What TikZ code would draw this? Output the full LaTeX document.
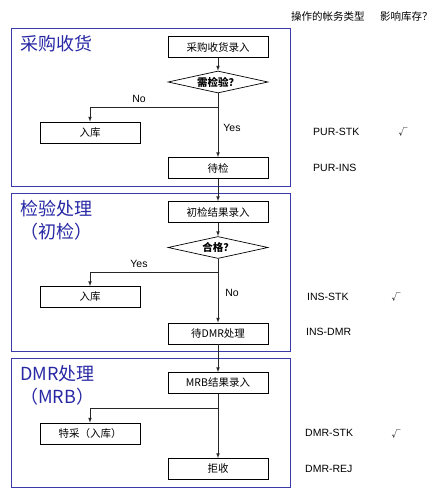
\documentclass[tikz,border=0pt]{standalone}
\usepackage{fontspec}
\setmainfont{Liberation Sans}
\newfontfamily\cjk{Noto Sans CJK SC}
\usepackage{tikz}
\usetikzlibrary{arrows,positioning,shapes,calc}
\usepackage{xcolor}
\definecolor{secblue}{RGB}{58,58,172}
\definecolor{titleblue}{RGB}{40,40,165}

\begin{document}
\begin{tikzpicture}[x=1pt,y=-1pt,
    every node/.style={font=\fontsize{10.5}{12}\selectfont},
    box/.style={draw,line width=0.7pt,minimum width=100pt,minimum height=21pt,inner sep=0pt,font=\cjk\fontsize{10.5}{12}\selectfont},
    decide/.style={draw,diamond,aspect=4.5,line width=0.7pt,minimum width=100pt,minimum height=22pt,inner sep=0pt,font=\cjk\bfseries\fontsize{10.5}{12}\selectfont},
    section/.style={draw=secblue,line width=0.9pt,minimum width=279pt,inner sep=0pt},
    title/.style={anchor=north west,text=titleblue,align=left,inner sep=0pt,font=\cjk\fontsize{18}{23}\selectfont},
    code/.style={anchor=west,inner sep=0pt},
    flow/.style={->,>=latex,line width=0.7pt,draw=black!85}]
    \useasboundingbox (0,0) rectangle (441,493);

    % column headers
    \node[anchor=west,inner sep=0pt,font=\cjk\fontsize{10.5}{12}\selectfont] (hdtype) at (291,17) {操作的帐务类型};
    \node[anchor=west,inner sep=0pt,font=\cjk\fontsize{10.5}{12}\selectfont] (hdstock) at (380,17) {影响库存？};

    % sections
    \node[section,minimum height=158pt] (sec1) at (150.5,107) {};
    \node[section,minimum height=158pt] (sec2) at (150.5,272) {};
    \node[section,minimum height=129pt] (sec3) at (150.5,422.5) {};
    \node[title] (t1) at (20,35) {采购收货};
    \node[title] (t2) at (20,200) {检验处理\\（初检）};
    \node[title] (t3) at (20,365) {DMR处理\\（MRB）};

    % receiving
    \node[box] (rcv) at (218,47) {采购收货录入};
    \node[decide] (need) at (218,82) {需检验？};
    \node[box] (stk1) at (90,132.5) {入库};
    \node[box] (pend) at (218,168) {待检};
    \coordinate (j1) at (218,107);

    % inspection
    \node[box] (insp) at (218,212) {初检结果录入};
    \node[decide] (pass) at (218,247.5) {合格？};
    \node[box] (stk2) at (90,297) {入库};
    \node[box] (dmr) at (218,333.5) {待DMR处理};
    \coordinate (j2) at (218,272);

    % MRB
    \node[box] (mrb) at (218,383) {MRB结果录入};
    \node[box] (spec) at (90,433.5) {特采（入库）};
    \node[box] (rej) at (218,469) {拒收};
    \coordinate (j3) at (218,408);

    % transaction types
    \node[code] (c1) at (313,132) {PUR-STK};
    \node[code] (c2) at (313,168) {PUR-INS};
    \node[code] (c3) at (307,297) {INS-STK};
    \node[code] (c4) at (306,332) {INS-DMR};
    \node[code] (c5) at (305,433) {DMR-STK};
    \node[code] (c6) at (305,469) {DMR-REJ};
    \node[font=\cjk\fontsize{9}{10}\selectfont] (k1) at (403,132) {√};
    \node[font=\cjk\fontsize{9}{10}\selectfont] (k2) at (396,297) {√};
    \node[font=\cjk\fontsize{9}{10}\selectfont] (k3) at (396,434) {√};

    \draw[flow] (rcv) -- (need);
    \draw[flow] (need) -- (pend);
    \draw[flow] (j1) -| (stk1);
    \node (no1) at (139,99) {No};
    \node (yes1) at (232,128) {Yes};
    \draw[flow] (pend) -- (insp);
    \draw[flow] (insp) -- (pass);
    \draw[flow] (pass) -- (dmr);
    \draw[flow] (j2) -| (stk2);
    \node (yes2) at (139,264) {Yes};
    \node (no2) at (232,293) {No};
    \draw[flow] (dmr) -- (mrb);
    \draw[flow] (mrb) -- (rej);
    \draw[flow] (j3) -| (spec);
  \end{tikzpicture}
\end{document}
